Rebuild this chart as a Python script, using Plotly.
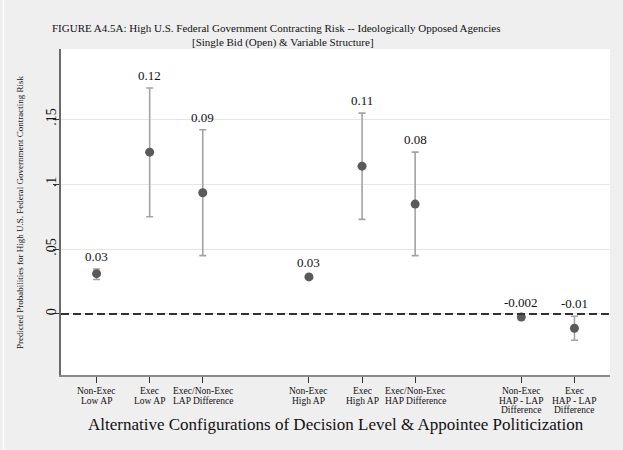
import plotly.graph_objects as go

# Predicted probabilities (point estimates) and 95% confidence bounds
positions = [1, 2, 3, 5, 6, 7, 9, 10]
tick_labels = [
    "Non-Exec<br>Low AP",
    "Exec<br>Low AP",
    "Exec/Non-Exec<br>LAP Difference",
    "Non-Exec<br>High AP",
    "Exec<br>High AP",
    "Exec/Non-Exec<br>HAP Difference",
    "Non-Exec<br>HAP - LAP<br>Difference",
    "Exec<br>HAP - LAP<br>Difference",
]
estimates = [0.031, 0.1246, 0.0933, 0.0285, 0.1138, 0.0846, -0.0024, -0.011]
ci_low = [0.0265, 0.0749, 0.0449, 0.0272, 0.0728, 0.0449, -0.0040, -0.0202]
ci_high = [0.0346, 0.1740, 0.1418, 0.0300, 0.1546, 0.1246, -0.0009, -0.0018]
value_labels = ["0.03", "0.12", "0.09", "0.03", "0.11", "0.08", "-0.002", "-0.01"]
y_ticks = [0, 0.05, 0.1, 0.15]
y_tick_text = ["0", ".05", ".1", ".15"]

serif = "Liberation Serif"
ink = "#111111"

fig = go.Figure()

fig.add_trace(go.Scatter(
    x=positions,
    y=estimates,
    mode="markers",
    marker=dict(size=9, color="#5a5a5a"),
    error_y=dict(
        type="data",
        symmetric=False,
        array=[h - e for h, e in zip(ci_high, estimates)],
        arrayminus=[e - l for e, l in zip(estimates, ci_low)],
        color="#a3a3a3",
        thickness=1.6,
        width=3.5,
    ),
    showlegend=False,
    hoverinfo="skip",
))

# zero reference line
fig.add_shape(type="line", xref="paper", yref="y", x0=0, x1=1, y0=0, y1=0,
              line=dict(color="#333333", width=2, dash="8px,4px"))

annotations = []
# value labels above each upper confidence bound
for x, top, txt in zip(positions, ci_high, value_labels):
    annotations.append(dict(x=x, y=top, xref="x", yref="y", text=txt,
                            showarrow=False, yanchor="bottom", yshift=3,
                            font=dict(family=serif, size=13, color=ink)))

# category labels under the x axis, one annotation per line for tight spacing
for x, lab in zip(positions, tick_labels):
    for i, line in enumerate(lab.split("<br>")):
        annotations.append(dict(x=x, y=0, xref="x", yref="paper", text=line,
                                showarrow=False, xanchor="center", yanchor="middle",
                                yshift=-(16 + 9.6 * i),
                                font=dict(family=serif, size=9.5, color=ink)))

annotations += [
    dict(text="FIGURE A4.5A: High U.S. Federal Government Contracting Risk -- Ideologically Opposed Agencies",
         xref="paper", yref="paper", x=0.393, y=1.064, showarrow=False,
         xanchor="center", yanchor="middle",
         font=dict(family=serif, size=11, color=ink)),
    dict(text="[Single Bid (Open) &amp; Variable Structure]",
         xref="paper", yref="paper", x=0.404, y=1.021, showarrow=False,
         xanchor="center", yanchor="middle",
         font=dict(family=serif, size=11, color=ink)),
    dict(text="Predicted Probabilities for High U.S. Federal Government Contracting Risk",
         xref="paper", yref="paper", x=-0.0747, y=0.5, showarrow=False,
         textangle=-90, xanchor="center", yanchor="middle",
         font=dict(family=serif, size=9, color=ink)),
    dict(text="Alternative Configurations of Decision Level &amp; Appointee Politicization",
         xref="paper", yref="paper", x=0.5, y=-0.152, showarrow=False,
         xanchor="center", yanchor="middle",
         font=dict(family=serif, size=17, color=ink)),
]

fig.update_layout(
    width=623,
    height=450,
    margin=dict(l=61, r=13, t=49, b=75),
    paper_bgcolor="#efefef",
    plot_bgcolor="#ffffff",
    font=dict(family=serif, color=ink),
    annotations=annotations,
    xaxis=dict(
        range=[0.33, 10.67],
        tickmode="array",
        tickvals=positions,
        showticklabels=False,
        ticks="outside",
        ticklen=6,
        tickcolor="#333333",
        showgrid=False,
        zeroline=False,
        showline=True,
        linecolor="#8a8a8a",
        linewidth=1.5,
    ),
    yaxis=dict(
        range=[-0.047, 0.204],
        tickmode="array",
        tickvals=y_ticks,
        ticktext=y_tick_text,
        tickangle=-90,
        tickfont=dict(family=serif, size=14, color=ink),
        ticklabelstandoff=-8,
        ticks="outside",
        ticklen=6,
        tickcolor="#333333",
        showgrid=True,
        gridcolor="#e6e6e6",
        gridwidth=1,
        zeroline=False,
        showline=True,
        linecolor="#6a6a6a",
        linewidth=1.5,
    ),
)

# thin light edge along the left border of the canvas
fig.add_shape(type="line", xref="paper", yref="paper",
              x0=-0.1047, x1=-0.1047, y0=-0.23, y1=1.15,
              line=dict(color="#ffffff", width=1.5))

fig.write_html("out.html")
